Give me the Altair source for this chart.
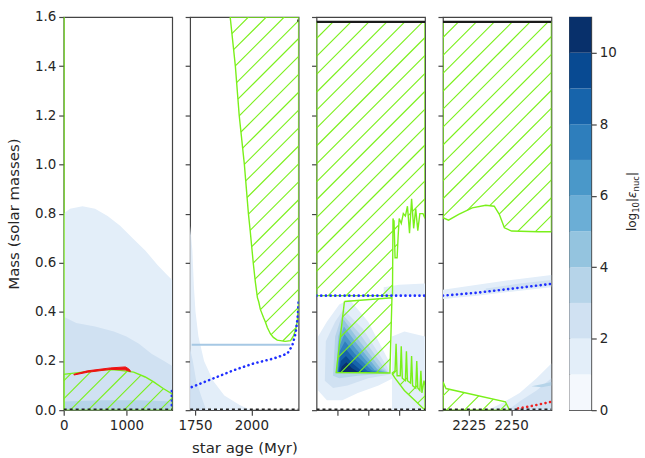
import altair as alt
import pandas as pd
import numpy as np

# ---------------- data ----------------
BAND_COLORS = ["#f4f8fd", "#e3eef9", "#d0e1f2", "#b6d4e9", "#94c4df", "#6baed6",
               "#4a98c9", "#2e7ebc", "#1764ab", "#084a92", "#08306b"]
CBAR_TICKS = [0, 2, 4, 6, 8, 10]
Y_DOMAIN = [0.0, 1.6]
Y_TICKS = [0.0, 0.2, 0.4, 0.6, 0.8, 1.0, 1.2, 1.4, 1.6]

P1_DOMAIN = [0, 1730]
P2_DOMAIN = [1728, 2210]
P3_DOMAIN = [0, 10.5]
P4_DOMAIN = [2209.7, 2273.8]
P1_TICKS = [0, 1000]
P2_TICKS = [1750, 2000]
P3_TICKS = [2, 5, 8]
P4_TICKS = [2225, 2250]

# nuclear-energy contour regions: (band, xs, ys)
P1_CONTOURS = [
    (1, [0, 0, 100, 300, 500, 700, 900, 1100, 1300, 1500, 1650, 1730, 1730],
        [0, 0.80, 0.82, 0.83, 0.82, 0.79, 0.75, 0.70, 0.65, 0.59, 0.55, 0.53, 0]),
    (2, [0, 0, 200, 500, 800, 1000, 1200, 1400, 1600, 1730, 1730],
        [0, 0.38, 0.355, 0.34, 0.32, 0.30, 0.27, 0.23, 0.20, 0.18, 0]),
    (3, [0, 600, 1200, 1730, 1730, 0], [0.035, 0.04, 0.04, 0.035, 0, 0]),
]
P2_CONTOURS = [
    (1, [1728, 1728, 1738, 1745, 1752, 1765, 1790, 1830, 1880, 1950, 2000],
        [0, 0.75, 0.65, 0.5, 0.4, 0.3, 0.2, 0.12, 0.06, 0.02, 0]),
    (2, [1728, 1728, 1740, 1755, 1780, 1800], [0, 0.25, 0.2, 0.12, 0.05, 0]),
]
P3_CONTOURS = [
    (1, [0.15, 0.15, 1.0, 2.2, 3.2, 5.0, 7.0, 7.4, 6.0, 4.0, 2.5, 1.0],
        [0.08, 0.30, 0.36, 0.43, 0.45, 0.36, 0.20, 0.13, 0.10, 0.07, 0.04, 0.04]),
    (1, [7.3, 7.3, 8.5, 10.5, 10.5], [0.0, 0.30, 0.32, 0.30, 0.0]),
    (1, [6.5, 6.5, 8.0, 10.5, 10.5], [0.466, 0.50, 0.51, 0.515, 0.466]),
    (2, [0.8, 0.9, 1.8, 2.6, 4.5, 6.8, 7.1, 5.0, 3.0, 1.6],
        [0.12, 0.28, 0.36, 0.41, 0.33, 0.18, 0.145, 0.13, 0.10, 0.09]),
    (3, [1.6, 1.8, 2.5, 4.2, 6.6, 7.0, 4.0, 2.2], [0.14, 0.30, 0.39, 0.31, 0.17, 0.15, 0.14, 0.13]),
    (4, [1.9, 2.1, 2.6, 4.0, 6.2, 7.0], [0.15, 0.30, 0.37, 0.29, 0.17, 0.152]),
    (5, [1.95, 2.15, 2.65, 3.9, 5.9, 6.9], [0.152, 0.28, 0.34, 0.27, 0.165, 0.152]),
    (6, [2.0, 2.2, 2.7, 3.8, 5.6, 6.6], [0.152, 0.26, 0.31, 0.25, 0.163, 0.152]),
    (7, [2.05, 2.25, 2.75, 3.7, 5.3, 6.2], [0.152, 0.24, 0.28, 0.23, 0.162, 0.152]),
    (8, [2.1, 2.3, 2.8, 3.6, 4.9, 5.7], [0.152, 0.22, 0.25, 0.21, 0.16, 0.152]),
    (9, [2.15, 2.35, 2.85, 3.5, 4.4, 5.1], [0.152, 0.20, 0.22, 0.19, 0.158, 0.152]),
    (10, [2.25, 2.45, 2.9, 3.4, 4.0, 4.4], [0.152, 0.178, 0.195, 0.172, 0.156, 0.152]),
]
P4_CONTOURS = [
    (1, [2236, 2245, 2255, 2265, 2273.8, 2273.8], [0, 0.03, 0.07, 0.13, 0.19, 0]),
    (2, [2248, 2256, 2265, 2273.8, 2273.8], [0, 0.04, 0.08, 0.13, 0]),
    (3, [2262, 2268, 2273.8, 2273.8, 2268], [0.097, 0.105, 0.115, 0.10, 0.093]),
    (1, [2209.7, 2230, 2250, 2273.8, 2273.8, 2250, 2230, 2209.7],
        [0.452, 0.466, 0.482, 0.50, 0.55, 0.53, 0.51, 0.49]),
    (2, [2235, 2255, 2273.8, 2273.8, 2255, 2235], [0.478, 0.494, 0.506, 0.53, 0.515, 0.495]),
]

# convective (hatched) regions: (xs, ys)
P1_CONV = [
    ([0, 0, 300, 600, 750, 900, 1116, 1300, 1434, 1587, 1725, 1730, 1730],
     [0, 0.146, 0.155, 0.163, 0.165, 0.162, 0.155, 0.135, 0.115, 0.088, 0.067, 0.065, 0]),
]
P2_CONV = [
    ([1906, 1929, 1946, 1969, 1987, 1995, 2009, 2018, 2027, 2033, 2040, 2054, 2062, 2071, 2085,
      2098, 2115, 2129, 2150, 2174, 2186, 2196, 2204, 2210, 2210],
     [1.6, 1.4, 1.2, 1.0, 0.8, 0.729, 0.595, 0.52, 0.458, 0.44, 0.41, 0.377, 0.36, 0.336, 0.31,
      0.296, 0.285, 0.283, 0.28, 0.283, 0.30, 0.324, 0.36, 0.44, 1.6]),
]
P3_CONV = [
    ([0, 10.5, 10.5, 10.3, 10.0, 9.8, 9.6, 9.4, 9.2, 9.0, 8.8, 8.6, 8.4, 8.2, 8.0, 7.9, 7.8,
      7.6, 7.5, 7.45, 7.4, 7.35, 0],
     [1.58, 1.58, 0.78, 0.80, 0.80, 0.73, 0.82, 0.74, 0.86, 0.72, 0.83, 0.79, 0.80, 0.76, 0.78,
      0.71, 0.62, 0.62, 0.77, 0.77, 0.78, 0.466, 0.466]),
    ([2.7, 7.3, 7.1, 1.9], [0.442, 0.457, 0.151, 0.153]),
    ([7.3, 7.6, 7.7, 7.8, 8.1, 8.2, 8.3, 8.6, 8.7, 8.8, 9.1, 9.2, 9.3, 9.6, 9.7, 9.8, 10.0,
      10.1, 10.2, 10.4, 10.5, 10.5, 9.5, 8.5, 7.6],
     [0.15, 0.16, 0.27, 0.14, 0.14, 0.26, 0.13, 0.12, 0.24, 0.12, 0.11, 0.22, 0.10, 0.09,
      0.20, 0.09, 0.08, 0.16, 0.07, 0.12, 0.10, 0.0, 0.04, 0.08, 0.13]),
]
P4_CONV = [
    ([2209.7, 2273.8, 2273.8, 2266, 2250.3, 2246, 2243, 2240, 2235, 2227, 2219, 2213, 2209.7],
     [1.58, 1.58, 0.726, 0.726, 0.729, 0.742, 0.797, 0.83, 0.834, 0.823, 0.797, 0.773, 0.783]),
    ([2209.7, 2209.7, 2211.5, 2246.6, 2248.5, 2249], [0, 0.115, 0.088, 0.034, 0.008, 0]),
]

# burning region (red) in panel 1
P1_RED = ([163, 376, 746, 984, 1037, 1063, 1063, 980, 750, 376, 163],
          [0.146, 0.160, 0.172, 0.176, 0.168, 0.160, 0.157, 0.164, 0.166, 0.154, 0.143])
P1_EDGE = ([0, 0], [0, 1.6])
# He-core (blue dotted) boundaries
P1_BLUE = ([1723, 1724], [0.02, 0.085])
P2_BLUE = ([1735, 1847, 1920, 2010, 2098, 2160, 2182, 2196, 2206, 2210],
           [0.094, 0.135, 0.162, 0.19, 0.21, 0.23, 0.263, 0.31, 0.378, 0.445])
P3_BLUE = ([0, 10.5], [0.466, 0.466])
P4_BLUE = ([2209.7, 2230, 2250, 2273.8], [0.466, 0.478, 0.494, 0.514])
P4_RED = ([2254, 2260, 2273.8], [0.007, 0.014, 0.034])
P2_THIN = ([1735, 2173], [0.266, 0.266])
# stellar surface (black) lines
P2_TOP = ([2204, 2210], [1.585, 1.585])
P3_TOP = ([0, 10.5], [1.58, 1.58])
P4_TOP = ([2209.7, 2273.8], [1.58, 1.58])
BOTTOM_Y = 0.004

# ---------------- layout / style ----------------
W, H = 109, 395
SPACING = 18
LEFT0 = 63
TOP0 = 15
PAD_TOP = 8
HATCH_SP = 18.0
HATCH_PHASE = 11.6
GREEN = "#7af01a"
FONT = "DejaVu Sans"


def hatch_segments(polys, dom, left):
    x0, x1 = dom
    segs = []
    for xs, ys in polys:
        px = [(x - x0) / (x1 - x0) * W for x in xs]
        pu = [y / Y_DOMAIN[1] * H for y in ys]
        n = len(px)
        base = HATCH_PHASE - (TOP0 + H) - left
        kmin = int(np.floor((-H - base) / HATCH_SP)) - 1
        kmax = int(np.ceil((W - base) / HATCH_SP)) + 1
        for k in range(kmin, kmax + 1):
            c = base + k * HATCH_SP + 1e-7
            us = []
            for i in range(n):
                ax, au = px[i], pu[i]
                bx, bu = px[(i + 1) % n], pu[(i + 1) % n]
                fa = ax - au - c
                fb = bx - bu - c
                if (fa < 0) != (fb < 0):
                    t = fa / (fa - fb)
                    us.append(au + t * (bu - au))
            us.sort()
            for j in range(0, len(us) - 1, 2):
                u1, u2 = us[j], us[j + 1]
                segs.append(dict(x=x0 + (c + u1) / W * (x1 - x0), y=u1 / H * Y_DOMAIN[1],
                                 x2=x0 + (c + u2) / W * (x1 - x0), y2=u2 / H * Y_DOMAIN[1]))
    return pd.DataFrame(segs)


def poly_df(polys, with_color=False, close=False):
    rows = []
    for pid, p in enumerate(polys):
        if with_color:
            band, xs, ys = p
        else:
            xs, ys = p
        pts = list(zip(xs, ys))
        if close:
            pts = pts + [pts[0]]
        for i, (x, y) in enumerate(pts):
            r = dict(pid=pid, i=i, x=x, y=y)
            if with_color:
                r["col"] = BAND_COLORS[band]
            rows.append(r)
    return pd.DataFrame(rows)


def line_df(xs, ys):
    return pd.DataFrame(dict(i=list(range(len(xs))), x=xs, y=ys))


def make_panel(k, dom, ticks, contours, conv, extra, xtitle=None, xlabels=True, ylabels=False):
    left = LEFT0 + k * (W + SPACING)
    xkw = dict(values=ticks, format="d", labelFlush=False, tickSize=5, labelPadding=3,
               domain=False, grid=False, labels=xlabels)
    if xtitle:
        xkw["title"] = xtitle
        xkw["titlePadding"] = 9
    else:
        xkw["title"] = None
    ykw = dict(values=Y_TICKS, format=".1f", tickSize=5, labelPadding=3, domain=False,
               grid=False, labels=ylabels)
    if ylabels:
        ykw["title"] = "Mass (solar masses)"
        ykw["titlePadding"] = 13
    else:
        ykw["title"] = None
    xs = alt.Scale(domain=dom, nice=False, zero=False)
    ys = alt.Scale(domain=Y_DOMAIN, nice=False, zero=False)
    X = lambda f="x": alt.X(f, type="quantitative", scale=xs, axis=alt.Axis(**xkw))
    Y = lambda f="y": alt.Y(f, type="quantitative", scale=ys, axis=alt.Axis(**ykw))

    layers = []
    bot = line_df(dom, [BOTTOM_Y, BOTTOM_Y])
    base_line = alt.Chart(bot).mark_line(color="#222", strokeWidth=1.4, strokeDash=[3, 3], clip=True).encode(
        x=X(), y=Y(), order="i:Q")
    if contours:
        cdf = poly_df(contours, with_color=True)
        layers.append(alt.Chart(cdf).mark_line(strokeWidth=0, strokeOpacity=0, clip=True).encode(
            x=X(), y=Y(), order="i:Q", detail="pid:N", fill=alt.Fill("col:N", scale=None)))
    for kind, data in extra:
        if kind == "thin":
            layers.append(alt.Chart(line_df(*data)).mark_line(color="#a6c8e4", strokeWidth=2, clip=True).encode(
                x=X(), y=Y(), order="i:Q"))
    if conv:
        hdf = hatch_segments(conv, dom, left)
        layers.append(alt.Chart(hdf).mark_rule(color=GREEN, strokeWidth=1.1, clip=True).encode(
            x=X(), y=Y(), x2="x2:Q", y2="y2:Q"))
        odf = poly_df(conv, close=True)
        layers.append(alt.Chart(odf).mark_line(color=GREEN, strokeWidth=1.4, clip=True).encode(
            x=X(), y=Y(), order="i:Q", detail="pid:N"))
    for kind, data in extra:
        if kind == "edge":
            layers.append(alt.Chart(line_df(*data)).mark_line(color=GREEN, strokeWidth=2, clip=True).encode(
                x=X(), y=Y(), order="i:Q"))
        elif kind == "redband":
            rdf = poly_df([data], close=True)
            layers.append(alt.Chart(rdf).mark_line(color="#ee1111", fill="#ee1111", strokeWidth=1.0,
                                                   clip=True).encode(x=X(), y=Y(), order="i:Q", detail="pid:N"))
        elif kind == "blue":
            layers.append(alt.Chart(line_df(*data)).mark_line(color="#1f2fff", strokeWidth=2.6, strokeCap="round",
                                                              strokeDash=[0.1, 4.6], clip=True).encode(
                x=X(), y=Y(), order="i:Q"))
        elif kind == "reddot":
            layers.append(alt.Chart(line_df(*data)).mark_line(color="#ee2222", strokeWidth=2.6, strokeCap="round",
                                                              strokeDash=[0.1, 4.6], clip=True).encode(
                x=X(), y=Y(), order="i:Q"))
        elif kind == "top":
            layers.append(alt.Chart(line_df(*data)).mark_line(color="#1a1a1a", strokeWidth=2.2, clip=True).encode(
                x=X(), y=Y(), order="i:Q"))
    layers.append(base_line)
    return alt.layer(*layers).properties(width=W, height=H)


p1 = make_panel(0, P1_DOMAIN, P1_TICKS, P1_CONTOURS, P1_CONV,
                [("edge", P1_EDGE), ("redband", P1_RED), ("blue", P1_BLUE)], ylabels=True)
p2 = make_panel(1, P2_DOMAIN, P2_TICKS, P2_CONTOURS, P2_CONV,
                [("thin", P2_THIN), ("blue", P2_BLUE), ("top", P2_TOP)], xtitle="star age (Myr)")
p3 = make_panel(2, P3_DOMAIN, P3_TICKS, P3_CONTOURS, P3_CONV,
                [("blue", P3_BLUE), ("top", P3_TOP)], xlabels=False)
p4 = make_panel(3, P4_DOMAIN, P4_TICKS, P4_CONTOURS, P4_CONV,
                [("blue", P4_BLUE), ("reddot", P4_RED), ("top", P4_TOP)])

# colorbar
cb_df = pd.DataFrame(dict(lo=list(range(len(BAND_COLORS))),
                          hi=[v + 1 for v in range(len(BAND_COLORS))],
                          col=BAND_COLORS))
CB_W = 22
cbar_rect = alt.Chart(cb_df).mark_rect().encode(
    x=alt.value(0), x2=alt.value(CB_W),
    y=alt.Y("lo:Q", scale=alt.Scale(domain=[0, len(BAND_COLORS)], nice=False, zero=False),
            axis=alt.Axis(orient="right", values=CBAR_TICKS, title=None, tickSize=5, labelPadding=3,
                          domain=False, grid=False)),
    y2="hi:Q",
    fill=alt.Fill("col:N", scale=None))

TITLE_PIECES = [  # text, fontSize, italic, baseline-x, start-y
    ("log", 12, False, 67, 215),
    ("10", 8.5, False, 70, 196.7),
    ("|", 12, False, 67, 185.9),
    ("ε", 12, True, 67, 181.9),
    ("nuc", 8.5, False, 70, 175.2),
    ("|", 12, False, 67, 159.8),
]
title_layers = []
for txt, fs, it, bx, sy in TITLE_PIECES:
    title_layers.append(
        alt.Chart(pd.DataFrame(dict(t=[txt]))).mark_text(
            angle=270, align="left", baseline="alphabetic", fontSize=fs, font=FONT,
            fontStyle="italic" if it else "normal", color="#262626").encode(
            x=alt.value(bx), y=alt.value(sy), text="t:N"))

cbar = alt.layer(cbar_rect, *title_layers).properties(width=CB_W, height=H)

chart = alt.hconcat(p1, p2, p3, p4, cbar, spacing=SPACING, bounds="flush").properties(
    padding={"left": 5, "top": PAD_TOP, "right": 3, "bottom": 2}
).configure_axis(
    labelFont=FONT, titleFont=FONT, labelFontSize=13.5, titleFontSize=15, titleFontWeight="normal",
    labelColor="#262626", titleColor="#262626", tickColor="#444", tickWidth=1.2
).configure_view(stroke="#444", strokeWidth=1.2)

chart.save("out.html", embed_options={"renderer": "svg", "actions": False})
